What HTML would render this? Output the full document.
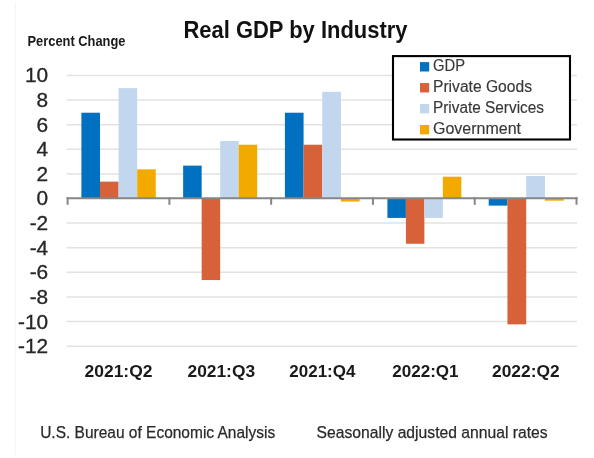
<!DOCTYPE html>
<html><head><meta charset="utf-8"><title>Real GDP by Industry</title>
<style>
html,body{margin:0;padding:0;background:#fff;}
body{width:594px;height:458px;overflow:hidden;}
svg{display:block;will-change:transform;}
text{font-family:"Liberation Sans",sans-serif;}
.yl{font-size:19.5px;fill:#262626;stroke:#262626;stroke-width:0.3px;}
.cl{font-size:17.4px;font-weight:bold;fill:#1a1a1a;}
.lg{font-size:15.8px;fill:#383838;stroke:#383838;stroke-width:0.15px;}
.tt{font-size:23.5px;font-weight:bold;fill:#111;}
.pc{font-size:14.3px;font-weight:bold;fill:#1a1a1a;}
.ft{font-size:16.3px;fill:#2a2a2a;stroke:#2a2a2a;stroke-width:0.25px;}
</style></head>
<body><svg width="594" height="458" viewBox="0 0 594 458">
<rect width="594" height="458" fill="#fff"/>
<line x1="15.5" y1="2" x2="15.5" y2="455" stroke="#f5f5f5" stroke-width="1"/>
<line x1="66.6" y1="75.45" x2="577" y2="75.45" stroke="#e2e2e2" stroke-width="1.5"/>
<line x1="66.6" y1="100.06" x2="577" y2="100.06" stroke="#e2e2e2" stroke-width="1.5"/>
<line x1="66.6" y1="124.67" x2="577" y2="124.67" stroke="#e2e2e2" stroke-width="1.5"/>
<line x1="66.6" y1="149.28" x2="577" y2="149.28" stroke="#e2e2e2" stroke-width="1.5"/>
<line x1="66.6" y1="173.89" x2="577" y2="173.89" stroke="#e2e2e2" stroke-width="1.5"/>
<line x1="66.6" y1="223.11" x2="577" y2="223.11" stroke="#e2e2e2" stroke-width="1.5"/>
<line x1="66.6" y1="247.72" x2="577" y2="247.72" stroke="#e2e2e2" stroke-width="1.5"/>
<line x1="66.6" y1="272.33" x2="577" y2="272.33" stroke="#e2e2e2" stroke-width="1.5"/>
<line x1="66.6" y1="296.94" x2="577" y2="296.94" stroke="#e2e2e2" stroke-width="1.5"/>
<line x1="66.6" y1="321.55" x2="577" y2="321.55" stroke="#e2e2e2" stroke-width="1.5"/>
<line x1="66.6" y1="346.16" x2="577" y2="346.16" stroke="#e2e2e2" stroke-width="1.5"/>
<rect x="81.40" y="112.72" width="18.59" height="86.13" fill="#0070c0"/>
<rect x="99.99" y="181.62" width="18.59" height="17.23" fill="#d76138"/>
<rect x="118.58" y="88.10" width="18.59" height="110.75" fill="#c2d6ee"/>
<rect x="137.17" y="169.32" width="18.59" height="29.53" fill="#f2aa00"/>
<rect x="183.15" y="165.63" width="18.51" height="33.22" fill="#0070c0"/>
<rect x="201.66" y="198.85" width="18.51" height="81.21" fill="#d76138"/>
<rect x="220.18" y="141.02" width="18.51" height="57.83" fill="#c2d6ee"/>
<rect x="238.69" y="144.71" width="18.51" height="54.14" fill="#f2aa00"/>
<rect x="284.90" y="112.72" width="18.68" height="86.13" fill="#0070c0"/>
<rect x="303.57" y="144.71" width="18.68" height="54.14" fill="#d76138"/>
<rect x="322.25" y="91.80" width="18.68" height="107.05" fill="#c2d6ee"/>
<rect x="340.93" y="198.85" width="18.68" height="2.71" fill="#f2aa00"/>
<rect x="387.40" y="198.85" width="18.49" height="19.07" fill="#0070c0"/>
<rect x="405.89" y="198.85" width="18.49" height="44.91" fill="#d76138"/>
<rect x="424.38" y="198.85" width="18.49" height="19.07" fill="#c2d6ee"/>
<rect x="442.86" y="176.70" width="18.49" height="22.15" fill="#f2aa00"/>
<rect x="488.70" y="198.85" width="18.75" height="6.77" fill="#0070c0"/>
<rect x="507.45" y="198.85" width="18.75" height="125.51" fill="#d76138"/>
<rect x="526.20" y="175.96" width="18.75" height="22.89" fill="#c2d6ee"/>
<rect x="544.95" y="198.85" width="18.75" height="1.85" fill="#f2aa00"/>
<line x1="66.60" y1="198.3" x2="577.50" y2="198.3" stroke="#868686" stroke-width="2.0"/>
<line x1="67.60" y1="197.3" x2="67.60" y2="204.8" stroke="#868686" stroke-width="2"/>
<line x1="169.38" y1="197.3" x2="169.38" y2="204.8" stroke="#868686" stroke-width="2"/>
<line x1="271.16" y1="197.3" x2="271.16" y2="204.8" stroke="#868686" stroke-width="2"/>
<line x1="372.94" y1="197.3" x2="372.94" y2="204.8" stroke="#868686" stroke-width="2"/>
<line x1="474.72" y1="197.3" x2="474.72" y2="204.8" stroke="#868686" stroke-width="2"/>
<line x1="576.50" y1="197.3" x2="576.50" y2="204.8" stroke="#868686" stroke-width="2"/>
<text transform="translate(48.2,82.40) scale(1.07,1)" text-anchor="end" class="yl">10</text>
<text transform="translate(48.2,107.01) scale(1.07,1)" text-anchor="end" class="yl">8</text>
<text transform="translate(48.2,131.62) scale(1.07,1)" text-anchor="end" class="yl">6</text>
<text transform="translate(48.2,156.23) scale(1.07,1)" text-anchor="end" class="yl">4</text>
<text transform="translate(48.2,180.84) scale(1.07,1)" text-anchor="end" class="yl">2</text>
<text transform="translate(48.2,205.45) scale(1.07,1)" text-anchor="end" class="yl">0</text>
<text transform="translate(48.2,230.06) scale(1.07,1)" text-anchor="end" class="yl">-2</text>
<text transform="translate(48.2,254.67) scale(1.07,1)" text-anchor="end" class="yl">-4</text>
<text transform="translate(48.2,279.28) scale(1.07,1)" text-anchor="end" class="yl">-6</text>
<text transform="translate(48.2,303.89) scale(1.07,1)" text-anchor="end" class="yl">-8</text>
<text transform="translate(48.2,328.50) scale(1.07,1)" text-anchor="end" class="yl">-10</text>
<text transform="translate(48.2,353.11) scale(1.07,1)" text-anchor="end" class="yl">-12</text>
<text x="84.49" y="377.4" textLength="68.00" lengthAdjust="spacingAndGlyphs" class="cl">2021:Q2</text>
<text x="187.47" y="377.4" textLength="67.60" lengthAdjust="spacingAndGlyphs" class="cl">2021:Q3</text>
<text x="289.25" y="377.4" textLength="66.20" lengthAdjust="spacingAndGlyphs" class="cl">2021:Q4</text>
<text x="392.23" y="377.4" textLength="66.40" lengthAdjust="spacingAndGlyphs" class="cl">2022:Q1</text>
<text x="492.01" y="377.4" textLength="67.60" lengthAdjust="spacingAndGlyphs" class="cl">2022:Q2</text>
<rect x="393" y="56.1" width="177" height="83.4" fill="#fff" stroke="#000" stroke-width="2.1"/>
<rect x="420" y="62.10" width="9.2" height="9.4" fill="#0070c0"/>
<text x="433.00" y="71.00" textLength="32.00" lengthAdjust="spacingAndGlyphs" class="lg">GDP</text>
<rect x="420" y="83.05" width="9.2" height="9.4" fill="#d76138"/>
<text x="433.00" y="91.95" textLength="99.00" lengthAdjust="spacingAndGlyphs" class="lg">Private Goods</text>
<rect x="420" y="104.00" width="9.2" height="9.4" fill="#c2d6ee"/>
<text x="433.00" y="112.90" textLength="111.00" lengthAdjust="spacingAndGlyphs" class="lg">Private Services</text>
<rect x="420" y="124.95" width="9.2" height="9.4" fill="#f2aa00"/>
<text x="433.00" y="133.85" textLength="88.00" lengthAdjust="spacingAndGlyphs" class="lg">Government</text>
<text x="183.50" y="37.7" textLength="224.00" lengthAdjust="spacingAndGlyphs" class="tt">Real GDP by Industry</text>
<text x="27.50" y="45.8" textLength="98.00" lengthAdjust="spacingAndGlyphs" class="pc">Percent Change</text>
<text x="40.20" y="438.1" textLength="235.00" lengthAdjust="spacingAndGlyphs" class="ft">U.S. Bureau of Economic Analysis</text>
<text x="316.60" y="438.1" textLength="231.00" lengthAdjust="spacingAndGlyphs" class="ft">Seasonally adjusted annual rates</text>
</svg></body></html>
